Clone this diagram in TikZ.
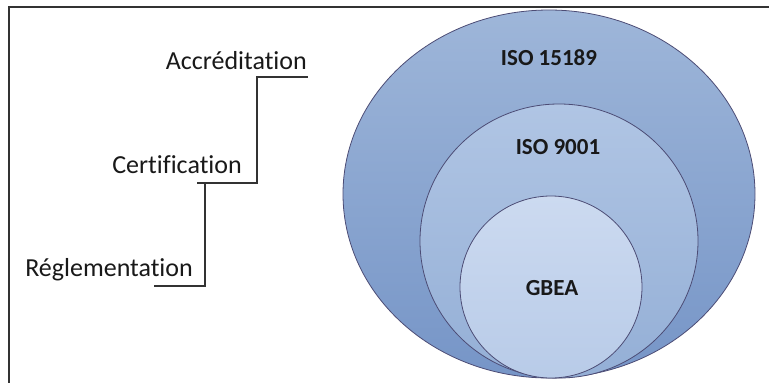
\documentclass[tikz,border=0pt]{standalone}
\usepackage{fontspec}
\setmainfont[Ligatures=NoCommon]{Carlito}
\begin{document}
\begin{tikzpicture}[x=1pt,y=-1pt,
  lbl/.style={font=\fontsize{26}{28}\selectfont, inner sep=0pt, text=black!90},
  iso/.style={font=\bfseries\fontsize{23}{25}\selectfont, inner sep=0pt, text=black!90},
  stair/.style={line width=1.6pt, draw=black!80},
  ring/.style={draw=black!60!blue!40!gray, line width=0.8pt}]
  \useasboundingbox (0,0) rectangle (769,383);
  \fill[white] (0,0) rectangle (769,383);
  % frame lines
  \draw[line width=1.6pt, draw=black!80] (9,383) -- (9,7) -- (769,7);

  % nested sets
  \shade[top color={rgb,255:red,158;green,182;blue,217}, bottom color={rgb,255:red,118;green,149;blue,199}]
    (549,194) ellipse [x radius=206, y radius=184];
  \draw[ring] (549,194) ellipse [x radius=206, y radius=184];
  \shade[top color={rgb,255:red,176;green,197;blue,228}, bottom color={rgb,255:red,148;green,175;blue,214}]
    (559,241) ellipse [x radius=139, y radius=137];
  \draw[ring] (559,241) ellipse [x radius=139, y radius=137];
  \shade[top color={rgb,255:red,204;green,218;blue,240}, bottom color={rgb,255:red,184;green,203;blue,232}]
    (551,287) circle [radius=91];
  \draw[ring] (551,287) circle [radius=91];

  \node[iso] (i15189) at (549,58) {ISO 15189};
  \node[iso] (i9001) at (558,147) {ISO 9001};
  \node[iso] (gbea) at (552,288) {GBEA};

  % staircase of requirements
  \node[lbl, anchor=east] (acc) at (307,61) {Accréditation};
  \node[lbl, anchor=east] (cert) at (242,165) {Certification};
  \node[lbl, anchor=east] (regl) at (193,270) {Réglementation};
  \coordinate (s1) at (154,286);
  \coordinate (s2) at (205,286);
  \coordinate (s3) at (205,183);
  \coordinate (s4) at (197,183);
  \coordinate (s5) at (257,183);
  \coordinate (s6) at (257,77);
  \coordinate (s7) at (308,77);
  \draw[stair] (s1) -- (s2) -- (s3);
  \draw[stair] (s4) -- (s5) -- (s6) -- (s7);
\end{tikzpicture}
\end{document}
